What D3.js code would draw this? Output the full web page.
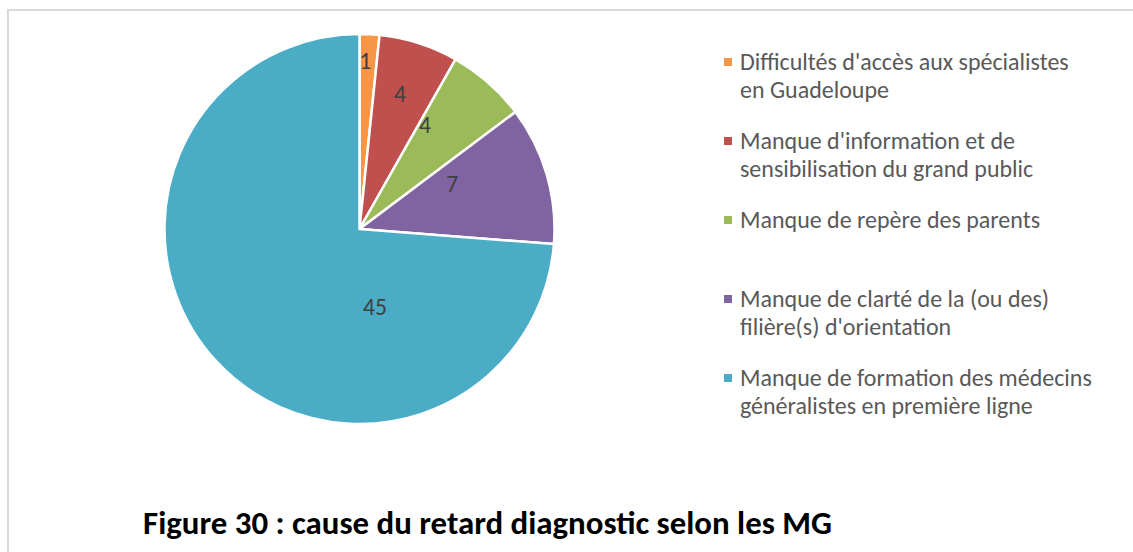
<!DOCTYPE html>
<html>
<head>
<meta charset="utf-8">
<script src="https://cdn.jsdelivr.net/npm/d3@7"></script>
<style>
  html, body { margin: 0; padding: 0; background: #fff; }
  svg { display: block; }
</style>
</head>
<body>
<div id="chart"></div>
<script>
// data
var categories = [
  "Difficultés d'accès aux spécialistes en Guadeloupe",
  "Manque d'information et de sensibilisation du grand public",
  "Manque de repère des parents",
  "Manque de clarté de la (ou des) filière(s) d'orientation",
  "Manque de formation des médecins généralistes en première ligne"
];
var legendLines = [
  ["Difficultés d'accès aux spécialistes", "en Guadeloupe"],
  ["Manque d'information et de", "sensibilisation du grand public"],
  ["Manque de repère des parents"],
  ["Manque de clarté de la (ou des)", "filière(s) d'orientation"],
  ["Manque de formation des médecins", "généralistes en première ligne"]
];
var values = [1, 4, 4, 7, 45];
var colors = ["#F79646", "#C0504D", "#9BBB59", "#8064A2", "#4BACC6"];
var title = "Figure 30 : cause du retard diagnostic selon les MG";

// layout: where the data labels sit (degrees clockwise from top, distance from centre)
var labelPolar = [[2.0, 168], [16.7, 141], [32.2, 123], [64.2, 103], [168.8, 79.5]];

var width = 1133, height = 552;
var cx = 359.5, cy = 229, radius = 195;
var fontStack = "Carlito, Calibri, Lato, 'Open Sans', sans-serif";

var svg = d3.select("#chart")
  .append("svg")
  .attr("width", width)
  .attr("height", height);

// outer frame
svg.append("rect")
  .attr("x", 8).attr("y", 10)
  .attr("width", 1300).attr("height", 700)
  .attr("fill", "none")
  .attr("stroke", "#d9d9d9")
  .attr("stroke-width", 2);

var pie = d3.pie().sort(null).value(d => d);
var arc = d3.arc().innerRadius(0).outerRadius(radius);

var g = svg.append("g")
  .attr("transform", "translate(" + cx + "," + cy + ")");

var arcs = pie(values);

g.selectAll("path")
  .data(arcs)
  .join("path")
  .attr("d", arc)
  .attr("fill", (d, i) => colors[i])
  .attr("stroke", "#fff")
  .attr("stroke-width", 2.5)
  .attr("stroke-linejoin", "round");

var valText = g.selectAll("text.val")
  .data(arcs)
  .join("text")
  .attr("class", "val")
  .attr("transform", (d, i) => {
    var p = d3.pointRadial(labelPolar[i][0] * Math.PI / 180, labelPolar[i][1]);
    return "translate(" + p[0] + "," + p[1] + ")";
  })
  .attr("text-anchor", "middle")
  .attr("dy", "0.35em")
  .style("font-family", fontStack)
  .style("font-size", "20px")
  .style("fill", "#404040")
  .text(d => d.data);

// "45" is about 24px wide in the reference
var w45 = valText.filter((d, i) => i === 4).node().getComputedTextLength();
if (w45 > 0) valText.style("font-size", (20 * 24 / w45) + "px");

// legend
var legend = svg.append("g").attr("class", "legend");
var legX = 724, legY0 = 62, legStep = 79, lineH = 28;

var items = legend.selectAll("g")
  .data(categories)
  .join("g")
  .attr("transform", (d, i) => "translate(" + legX + "," + (legY0 + i * legStep) + ")");

items.append("rect")
  .attr("x", 0).attr("y", -4)
  .attr("width", 8).attr("height", 8)
  .attr("fill", (d, i) => colors[i]);

var legText = items.append("text")
  .attr("x", 16)
  .style("font-family", fontStack)
  .style("font-size", "18px")
  .style("fill", "#595959");

legText.selectAll("tspan")
  .data((d, i) => legendLines[i])
  .join("tspan")
  .attr("x", 16)
  .attr("y", (d, j) => j * lineH)
  .attr("dy", "0.35em")
  .text(d => d);

// fit legend width to the reference (widest line ~352px)
var widest = 0;
legText.selectAll("tspan").each(function() {
  widest = Math.max(widest, this.getComputedTextLength());
});
if (widest > 0) {
  legText.style("font-size", (18 * 352 / widest) + "px");
}

// title
var t = svg.append("text")
  .attr("x", 487.5)
  .attr("y", 522)
  .attr("dy", "0.35em")
  .attr("text-anchor", "middle")
  .style("font-family", fontStack)
  .style("font-weight", "bold")
  .style("font-size", "24px")
  .style("fill", "#000")
  .text(title);

var tw = t.node().getComputedTextLength();
if (tw > 0) t.style("font-size", (24 * 689 / tw) + "px");
</script>
</body>
</html>
